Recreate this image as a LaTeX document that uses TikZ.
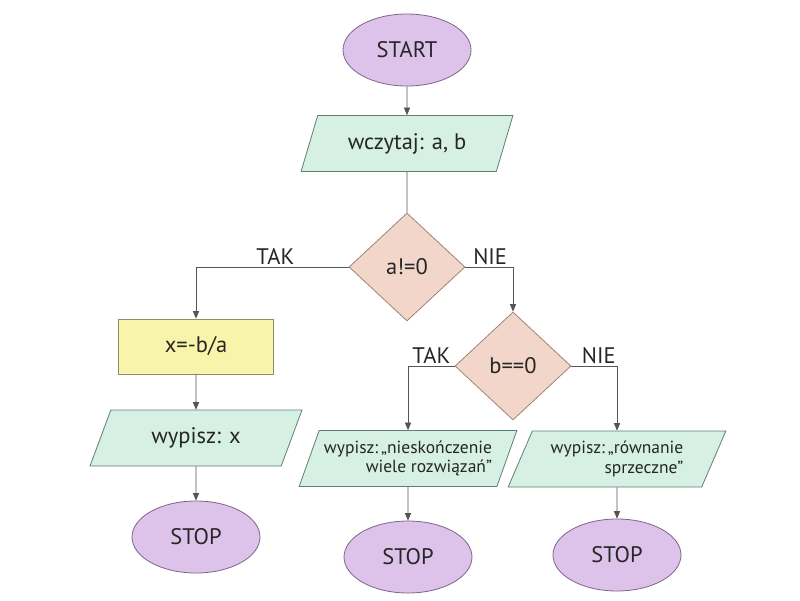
\documentclass[tikz,border=0pt]{standalone}
\usepackage{fontspec}
\setmainfont{PT Sans}
\usetikzlibrary{arrows,shapes.geometric}

\definecolor{lilac}{HTML}{DDC3E9}
\definecolor{lilacline}{HTML}{7E6488}
\definecolor{mint}{HTML}{D6F1E4}
\definecolor{mintline}{HTML}{5F7E76}
\definecolor{peach}{HTML}{F2D6CA}
\definecolor{peachline}{HTML}{A08272}
\definecolor{lemon}{HTML}{F8F4A9}
\definecolor{lemonline}{HTML}{8E8C6E}
\definecolor{wire}{HTML}{555555}

\newcommand\chartfont{\fontsize{22.5}{26}\selectfont}
\newcommand\smallchartfont{\fontsize{17.5}{19.5}\selectfont}

\begin{document}
\begin{tikzpicture}[x=1pt,y=-1pt]
	\tikzstyle{terminal}=[ellipse,draw=lilacline,fill=lilac,line width=0.8pt,minimum width=128pt,minimum height=72pt,inner sep=0pt,font=\chartfont,text=black!85]
	\tikzstyle{io}=[trapezium,trapezium left angle=62,trapezium right angle=118,trapezium stretches=true,draw=mintline,fill=mint,line width=0.8pt,minimum width=212pt,minimum height=56pt,inner sep=0pt,font=\chartfont,text=black!85]
	\tikzstyle{small io}=[io,font=\smallchartfont,align=right,minimum width=218pt]
	\tikzstyle{decision}=[diamond,draw=peachline,fill=peach,line width=0.8pt,minimum width=116pt,minimum height=108pt,inner sep=0pt,font=\chartfont,text=black!85]
	\tikzstyle{process}=[rectangle,draw=lemonline,fill=lemon,line width=0.8pt,minimum width=155pt,minimum height=55pt,font=\chartfont,text=black!85]
	\tikzstyle{arrow}=[draw=wire,line width=0.7pt,-triangle 45]
	\tikzstyle{answer}=[above,inner sep=2pt,font=\chartfont,text=black!85]
	
	\useasboundingbox (0,0) rectangle (800,600);
	
	% main column
	\node[terminal] (start) at (407,50) {START};
	\node[io] (read) at (407,143.5) {wczytaj: a, b};
	\node[decision] (cond1) at (407,267) {a!=0};
	
	% left branch
	\node[process] (calc) at (196,346.5) {x=-b/a};
	\node[io] (outx) at (196,438) {wypisz: x};
	\node[terminal] (stop1) at (196,537) {STOP};
	
	% right branch
	\node[decision] (cond2) at (513,366) {b==0};
	\node[small io] (outinf) at (408,458.5) {wypisz:\,„nieskończenie\\wiele rozwiązań”};
	\node[small io] (outnone) at (617,459) {wypisz:\,„równanie\\sprzeczne”};
	\node[terminal] (stop2) at (408,557) {STOP};
	\node[terminal] (stop3) at (617,555) {STOP};
	
	\draw[arrow] (start) -- (read);
	\draw[draw=wire,line width=0.7pt] (read) -- (cond1);
	\draw[arrow] (cond1.west) -| node[answer,pos=0.24] {TAK} (calc.north);
	\draw[arrow] (cond1.east) -| node[answer,pos=0.26] {NIE} (cond2.north);
	\draw[arrow] (calc) -- (outx);
	\draw[arrow] (outx) -- (stop1);
	\draw[arrow] (cond2.west) -| node[answer,pos=0.25] {TAK} (outinf.north);
	\draw[arrow] (cond2.east) -| node[answer,pos=0.3] {NIE} (outnone.north);
	\draw[arrow] (outinf) -- (stop2);
	\draw[arrow] (outnone) -- (stop3);
\end{tikzpicture}
\end{document}
